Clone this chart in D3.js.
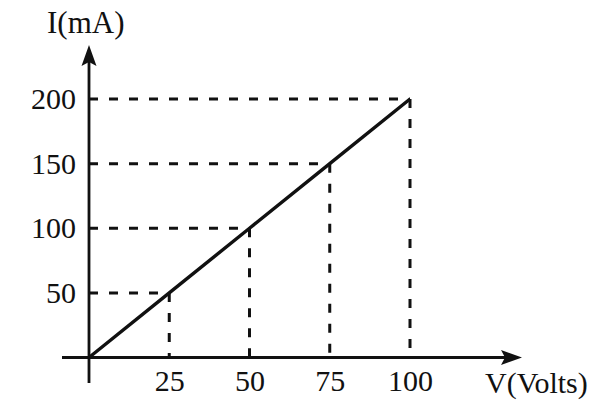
<!DOCTYPE html>
<html>
<head>
<meta charset="utf-8">
<script src="https://cdn.jsdelivr.net/npm/d3@7"></script>
<style>
  body { margin: 0; background: #fff; }
  text { font-family: "Liberation Serif", "Times New Roman", serif; fill: #111; }
  .tick text { font-size: 30px; }
</style>
</head>
<body>
<script>
//Data
const voltage = [25, 50, 75, 100];   //V (Volts)
const current = [50, 100, 150, 200]; //I (mA)
const xTicks = [25, 50, 75, 100];
const yTicks = [50, 100, 150, 200];

const width = 604;
const height = 410;

const svg = d3.select("body")
    .append("svg")
    .attr("width", width)
    .attr("height", height);

//Scales
const xScale = d3.scaleLinear()
    .domain([0, 100])
    .range([89, 410]);

const yScale = d3.scaleLinear()
    .domain([0, 200])
    .range([357.5, 99]);

const x0 = xScale(0);
const y0 = yScale(0);

//Dashed guide lines
const points = voltage.map((v, i) => ({v: v, i: current[i]}));

svg.selectAll(".hguide")
    .data(points)
    .enter()
    .append("line")
    .attr("x1", x0)
    .attr("x2", d => xScale(d.v))
    .attr("y1", d => yScale(d.i))
    .attr("y2", d => yScale(d.i))
    .attr("stroke", "#111")
    .attr("stroke-width", 3)
    .attr("stroke-dasharray", "9,11");

svg.selectAll(".vguide")
    .data(points)
    .enter()
    .append("line")
    .attr("x1", d => xScale(d.v))
    .attr("x2", d => xScale(d.v))
    .attr("y1", d => yScale(d.i))
    .attr("y2", y0)
    .attr("stroke", "#111")
    .attr("stroke-width", 3)
    .attr("stroke-dasharray", "9,11");

//Main line
const line = d3.line()
    .x(d => xScale(d.v))
    .y(d => yScale(d.i));

svg.append("path")
    .datum([{v: 0, i: 0}].concat(points))
    .attr("d", line)
    .attr("fill", "none")
    .attr("stroke", "#111")
    .attr("stroke-width", 3.4);

//Axis lines with arrows
svg.append("line")
    .attr("x1", 62).attr("x2", 510)
    .attr("y1", y0).attr("y2", y0)
    .attr("stroke", "#111").attr("stroke-width", 2.8);

svg.append("line")
    .attr("x1", x0).attr("x2", x0)
    .attr("y1", 383).attr("y2", 58)
    .attr("stroke", "#111").attr("stroke-width", 2.8);

svg.append("path")
    .attr("d", `M522,${y0} L501,${y0 - 7.5} L505,${y0} L501,${y0 + 7.5} Z`)
    .attr("fill", "#111");

svg.append("path")
    .attr("d", `M${x0},45 L${x0 - 7.5},66 L${x0},62 L${x0 + 7.5},66 Z`)
    .attr("fill", "#111");

//Tick labels through d3 axes
const bottomAxis = d3.axisBottom(xScale)
    .tickValues(xTicks)
    .tickSize(0)
    .tickPadding(12);

const leftAxis = d3.axisLeft(yScale)
    .tickValues(yTicks)
    .tickSize(0)
    .tickPadding(13);

svg.append("g")
    .attr("transform", "translate(0," + y0 + ")")
    .call(bottomAxis)
    .call(g => g.select(".domain").remove())
    .selectAll("text").attr("fill", "#111").attr("font-family", null);

svg.append("g")
    .attr("transform", "translate(" + x0 + ",0)")
    .call(leftAxis)
    .call(g => g.select(".domain").remove())
    .selectAll("text").attr("fill", "#111").attr("font-family", null);

//Axis titles
svg.append("text")
    .attr("x", 47)
    .attr("y", 33)
    .style("font-size", "31px")
    .text("I(mA)");

svg.append("text")
    .attr("x", 485)
    .attr("y", 393)
    .style("font-size", "30px")
    .text("V(Volts)");
</script>
</body>
</html>
